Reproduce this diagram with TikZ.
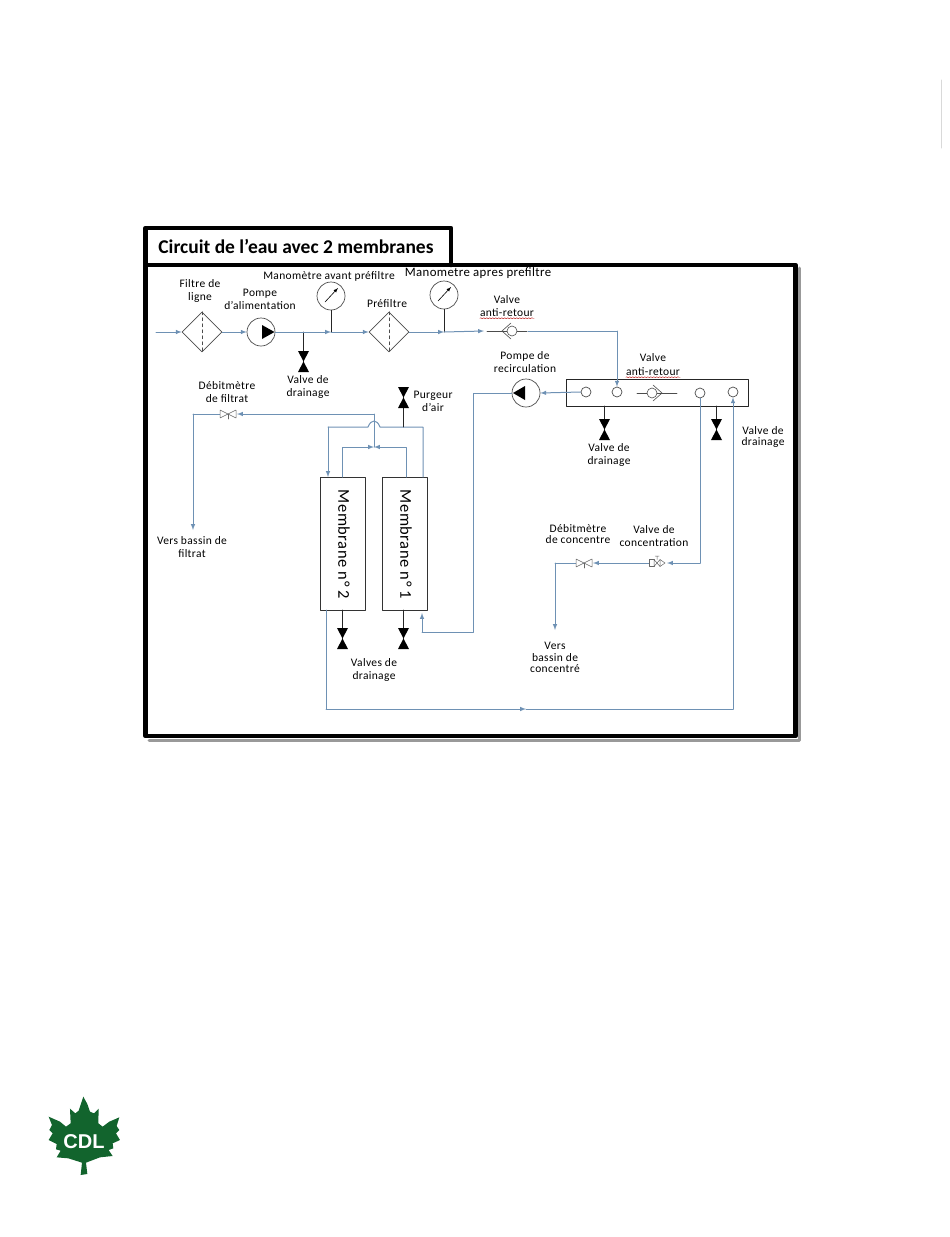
\documentclass[tikz,border=0pt]{standalone}
\usepackage{fontspec}
\setmainfont{Carlito}
\newfontfamily\logofont{Liberation Sans}
\newfontfamily\lblfont[LetterSpace=3]{Carlito}
\usetikzlibrary{arrows, positioning, shapes.geometric, decorations.pathmorphing}
\definecolor{pipe_blue}{RGB}{110,145,180}
\definecolor{leaf_green}{RGB}{18,100,45}
\tikzset{
	pipe/.style={pipe_blue,line width=1pt},
	stem/.style={black!85,line width=0.8pt},
	frameline/.style={black,line width=4.5pt},
	shadowline/.style={black!40,line width=3pt},
	lbl/.style={align=center,inner sep=0pt,font=\lblfont\fontsize{11.5}{13}\selectfont},
	lbltight/.style={align=center,inner sep=0pt,font=\lblfont\fontsize{11.5}{10.5}\selectfont},
	filterbox/.style={diamond,draw=black!70,line width=0.6pt,minimum size=40pt,inner sep=0pt},
	dial/.style={circle,draw=black!70,line width=0.7pt,minimum size=28pt,inner sep=0pt},
	membox/.style={draw=black!80,line width=0.8pt,minimum width=45pt,minimum height=133pt,inner sep=0pt},
	memtxt/.style={rotate=-90,inner sep=0pt,font=\lblfont\fontsize{16.5}{16.5}\selectfont},
	pics/hourglass/.style={code={
		\fill[black] (-5.5,-10.5) -- (5.5,-10.5) -- (-5.5,10.5) -- (5.5,10.5) -- cycle;}},
	pics/checkvalve/.style={code={
		\draw[black!70,line width=0.6pt] (-25,0) -- (15,0);
		\draw[black!70,line width=0.6pt,fill=white] (0,0) circle (5);
		\draw[black!70,line width=0.6pt] (-1,-8) -- (-10,0) -- (-1,8);}},
	pics/flowvalve/.style={code={
		\draw[black!60,line width=0.5pt,fill=white] (-8,-4) -- (8,4) -- (8,-4) -- (-8,4) -- cycle;
		\draw[black!60,line width=0.5pt] (0,0) -- (0,5);}},
	pics/concvalve/.style={code={
		\draw[black!60,line width=0.5pt,fill=white] (-8,-3.5) rectangle (-3,3.5);
		\draw[black!60,line width=0.5pt,fill=white] (-3,-3.5) -- (3,3.5) -- (3,-3.5) -- (-3,3.5) -- cycle;
		\draw[black!60,line width=0.5pt] (3,-3.5) -- (8,0) -- (3,3.5) (0,-3.5) -- (0,-7) (-2,-7) -- (2,-7);}},
}

\begin{document}
\begin{tikzpicture}[x=1pt,y=-1pt,line join=round,line cap=round,>=latex]
	\useasboundingbox (0,0) rectangle (950,1237);
	\draw[black!15,line width=1pt] (941,80) -- (941,148);

	% cadre
	\draw[shadowline] (799,268) -- (799,740) -- (149,740);
	\draw[frameline] (145.5,265) rectangle (795.5,736);
	\draw[frameline] (145.5,265) -- (145.5,228) -- (451,228) -- (451,265);
	\node[inner sep=0pt,font=\fontsize{19.5}{19.5}\selectfont\bfseries] (title) at (296,246) {Circuit de l’eau avec 2 membranes};

	% ligne d'alimentation
	\coordinate (inlet) at (156,332);
	\node[filterbox] (filtre1) at (202,332) {};
	\node[dial] (pumpA) at (261,332) {};
	\node[dial] (gaugeA) at (331,296) {};
	\node[filterbox] (filtre2) at (389,332) {};
	\node[dial] (gaugeB) at (444,295) {};
	\coordinate (teeD) at (303.5,332);
	\coordinate (teeA) at (331,332);
	\coordinate (teeB) at (444,332);
	\coordinate (checkA) at (512,331);
	\coordinate (checkAin) at (484,331);
	\coordinate (checkAout) at (528,331);
	\coordinate (drainA) at (303.5,361.5);
	\foreach\f in {filtre1,filtre2}
	{
		\draw[black!70,dashed,line width=0.6pt] (\f.north) -- (\f.south);
	}
	\foreach\g in {gaugeA,gaugeB}
	{
		\draw[black,line width=0.6pt,-latex] ([shift={(-6pt,-6pt)}]\g.center) -- ([shift={(7pt,8pt)}]\g.center);
	}
	\draw[stem] (gaugeA) -- (teeA);
	\draw[stem] (gaugeB) -- (teeB);
	\draw[stem] (teeD) -- (drainA);
	\draw[pipe,-latex] (inlet) -- (filtre1.west);
	\draw[pipe,-latex] (filtre1.east) -- (pumpA.west);
	\draw[pipe,-latex] (pumpA.east) -- (teeA);
	\draw[pipe,-latex] (teeA) -- (filtre2.west);
	\draw[pipe,-latex] (filtre2.east) -- (teeB);
	\draw[pipe,-latex] (teeB) -- (checkAin);
	\fill[black] (262,325) -- (274.5,332) -- (262,339) -- cycle;
	\pic at (drainA) {hourglass};
	\pic at (checkA) {checkvalve};

	% collecteur
	\node[draw=black!85,line width=0.7pt,minimum width=182pt,minimum height=27pt,inner sep=0pt] (manifold) at (657,392.5) {};
	\node[dial,minimum size=10pt] (portA) at (586,392) {};
	\node[dial,minimum size=10pt] (portB) at (617,392) {};
	\node[dial,minimum size=10pt] (portC) at (700,393) {};
	\node[dial,minimum size=10pt] (portD) at (733,392) {};
	\coordinate (checkB) at (652,393);
	\node[dial] (pumpB) at (526,393) {};
	\coordinate (elbowA) at (617,331);
	\draw[pipe] (checkAout) -- (elbowA);
	\draw[pipe,-latex] (elbowA) -- (portB.north);
	\pic[xscale=-1] at (checkB) {checkvalve};
	\draw[pipe,-latex] (portA.west) -- (pumpB.east);
	\fill[black] (525,386) -- (513,393) -- (525,400) -- cycle;
	\coordinate (drainB) at (604.5,429.5);
	\coordinate (drainC) at (716.5,429.5);
	\coordinate (drainBtop) at (604.5,406);
	\coordinate (drainCtop) at (716.5,406);
	\draw[stem] (drainBtop) -- (drainB);
	\draw[stem] (drainCtop) -- (drainC);
	\pic at (drainB) {hourglass};
	\pic at (drainC) {hourglass};

	% membranes
	\node[membox] (memb2) at (342.5,543.5) {};
	\node[membox] (memb1) at (405,543.5) {};
	\node[memtxt] (memb2txt) at (344,544.5) {Membrane n° 2};
	\node[memtxt] (memb1txt) at (406,544.5) {Membrane n° 1};
	\coordinate (recircA) at (473,393);
	\coordinate (recircB) at (473,632);
	\coordinate (recircC) at (422,632);
	\coordinate (recircD) at (422,613);
	\draw[pipe] (pumpB.west) -- (recircA) -- (recircB) -- (recircC);
	\draw[pipe,-latex] (recircC) -- (recircD);
	\coordinate (outA) at (423,477);
	\coordinate (outB) at (423,427);
	\coordinate (humpR) at (380,427);
	\coordinate (humpL) at (368,427);
	\coordinate (outC) at (328,427);
	\coordinate (outD) at (328,477);
	\draw[pipe] (outA) -- (outB) -- (humpR) .. controls (377,419) and (371,419) .. (humpL) -- (outC);
	\draw[pipe,-latex] (outC) -- (outD);
	\coordinate (inA) at (342,477);
	\coordinate (inB) at (342,447);
	\coordinate (inC) at (406,447);
	\coordinate (inD) at (406,477);
	\coordinate (teeF) at (374,447);
	\draw[pipe,-latex] (inA) -- (inB) -- (teeF);
	\draw[pipe,-latex] (inD) -- (inC) -- (teeF);
	\coordinate (filtTop) at (374,414);
	\coordinate (flowF) at (228,414);
	\coordinate (flowFin) at (237,414);
	\coordinate (filtOutA) at (193,414);
	\coordinate (filtOutB) at (193,530);
	\draw[pipe] (teeF) -- (filtTop);
	\draw[pipe,-latex] (filtTop) -- (flowFin);
	\draw[pipe] (flowF) -- (filtOutA);
	\draw[pipe,-latex] (filtOutA) -- (filtOutB);
	\pic at (flowF) {flowvalve};
	\coordinate (purge) at (403.5,397.5);
	\coordinate (purgeTee) at (403.5,427);
	\draw[stem] (purgeTee) -- (purge);
	\pic at (purge) {hourglass};
	\foreach\m/\x in {memb2/342.5,memb1/403.5}
	{
		\coordinate (\m drain) at (\x,638.5);
		\coordinate (\m foot) at (\x,610);
		\draw[stem] (\m foot) -- (\m drain);
		\pic at (\m drain) {hourglass};
	}

	% retour et concentre
	\coordinate (backA) at (326,610);
	\coordinate (backB) at (326,709);
	\coordinate (backM) at (526,709);
	\coordinate (backC) at (733,709);
	\draw[pipe] (backA) -- (backB);
	\draw[pipe,-latex] (backB) -- (backM);
	\draw[pipe] (backM) -- (backC);
	\draw[pipe,-latex] (backC) -- (portD.south);
	\coordinate (concA) at (700,563);
	\coordinate (flowV) at (657,563);
	\coordinate (flowVin) at (667,563);
	\coordinate (flowC) at (584,563);
	\coordinate (flowCin) at (593,563);
	\coordinate (concB) at (555,563);
	\coordinate (concC) at (555,630);
	\draw[pipe] (portC.south) -- (concA);
	\draw[pipe,-latex] (concA) -- (flowVin);
	\draw[pipe,-latex] (flowV) -- (flowCin);
	\draw[pipe] (flowC) -- (concB);
	\draw[pipe,-latex] (concB) -- (concC);
	\pic at (flowV) {concvalve};
	\pic at (flowC) {flowvalve};

	% textes
	\node[lbl] (lblfiltre) at (200,291) {Filtre de\\ligne};
	\node[lbl] (lblpompeA) at (260,299) {Pompe\\d’alimentation};
	\node[lbl] (lblmanoA) at (329,276) {Manomètre avant préfiltre};
	\node[lbl,font=\lblfont\fontsize{12.8}{13}\selectfont] (lblmanoB) at (478,273) {Manometre apres prefiltre};
	\node[lbl] (lblprefiltre) at (387,304) {Préfiltre};
	\node[lbl] (lbldrainA) at (308,387) {Valve de\\drainage};
	\node[lbl] (lbldebitF) at (227,392) {Débitmètre\\de filtrat};
	\node[lbl] (lblpurge) at (433,401) {Purgeur\\d’air};
	\node[lbl] (lblvalveA) at (507,300) {Valve};
	\node[lbl] (lblantiA) at (507,313) {anti-retour};
	\node[lbl] (lblpompeB) at (525,362.5) {Pompe de\\recirculation};
	\node[lbl] (lblvalveB) at (653,358) {Valve};
	\node[lbl] (lblantiB) at (653,372) {anti-retour};
	\node[lbl] (lbldrainB) at (609,455) {Valve de\\drainage};
	\node[lbltight] (lbldrainC) at (763,437) {Valve de\\drainage};
	\node[lbl] (lblbassinF) at (192,547.5) {Vers bassin de\\filtrat};
	\node[lbl] (lbldrainM) at (374,669.5) {Valves de\\drainage};
	\node[lbltight] (lbldebitC) at (578,534) {Débitmètre\\de concentre};
	\node[lbl] (lblvalveC) at (654,536) {Valve de\\concentration};
	\node[lbltight,font=\lblfont\fontsize{11.5}{11.5}\selectfont] (lblbassinC) at (555,657.5) {Vers\\bassin de\\concentré};
	\foreach\a in {lblantiA,lblantiB}
	{
		\draw[red!70!black,line width=0.4pt,decorate,decoration={snake,amplitude=0.5pt,segment length=3pt}] ([yshift=-1pt]\a.south west) -- ([yshift=-1pt]\a.south east);
	}

	% logo
	\begin{scope}[shift={(30,1080)},x=0.3333pt,y=-0.3333pt]
		\fill[leaf_green] (160,50) -- (172,72) -- (180,95) -- (192,100) -- (206,86) -- (205,130) -- (218,140) -- (238,125) -- (268,112) -- (260,138) -- (268,150) -- (258,160) -- (270,180) -- (248,190) -- (250,205) -- (236,210) -- (248,228) -- (210,232) -- (168,248) -- (172,282) -- (152,285) -- (156,248) -- (115,235) -- (80,232) -- (92,212) -- (78,208) -- (80,192) -- (56,180) -- (68,160) -- (58,150) -- (66,135) -- (56,110) -- (90,125) -- (108,140) -- (122,130) -- (120,86) -- (136,100) -- (146,92) -- cycle;
		\node[inner sep=0pt,text=white,font=\logofont\fontsize{20}{20}\selectfont\bfseries] (logotxt) at (162,186) {CDL};
	\end{scope}
\end{tikzpicture}
\end{document}
